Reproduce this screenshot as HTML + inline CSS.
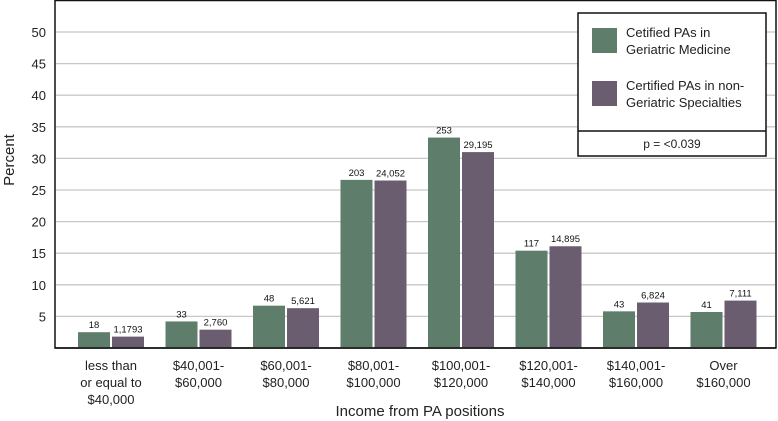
<!DOCTYPE html>
<html><head><meta charset="utf-8"><style>
body{margin:0;background:#fff;}
svg{display:block;font-family:"Liberation Sans",sans-serif;}
</style></head><body>
<svg id="c" width="778" height="421">
<rect x="55" y="0.5" width="721" height="347.5" fill="#fff" stroke="#111" stroke-width="1.5"/>
<g id="grid"></g><g id="bars"></g><g id="xl"></g>
<line x1="55" y1="348" x2="776" y2="348" stroke="#111" stroke-width="1.5"/>
<text x="14" y="160" font-size="15" text-anchor="middle" transform="rotate(-90 14 160)" fill="#222">Percent</text>
<text x="420" y="416" font-size="15" text-anchor="middle" fill="#222">Income from PA positions</text>
<g>
<rect x="578" y="13" width="188" height="143" fill="#fff" stroke="#111" stroke-width="1.5"/>
<line x1="578" y1="131" x2="766" y2="131" stroke="#111" stroke-width="1.5"/>
<rect x="592" y="28" width="25" height="25" fill="#5e7d6a"/>
<text x="626" y="37" font-size="13" fill="#222"><tspan x="626">Cetified PAs in</tspan><tspan x="626" dy="17">Geriatric Medicine</tspan></text>
<rect x="592" y="81" width="25" height="25" fill="#6b5d70"/>
<text x="626" y="90" font-size="13" fill="#222"><tspan x="626">Certified PAs in non-</tspan><tspan x="626" dy="17">Geriatric Specialties</tspan></text>
<text x="672" y="148" font-size="12" text-anchor="middle" fill="#222">p = &lt;0.039</text>
</g>
</svg>
<script>
const categories=[["less than","or equal to","$40,000"],["$40,001-","$60,000"],["$60,001-","$80,000"],["$80,001-","$100,000"],["$100,001-","$120,000"],["$120,001-","$140,000"],["$140,001-","$160,000"],["Over","$160,000"]];
const geriatric=[2.5,4.2,6.7,26.6,33.3,15.4,5.8,5.7];
const nonGeriatric=[1.8,2.9,6.3,26.5,31.0,16.1,7.2,7.5];
const geriatricLabels=["18","33","48","203","253","117","43","41"];
const nonGeriatricLabels=["1,1793","2,760","5,621","24,052","29,195","14,895","6,824","7,111"];
const yTicks=[5,10,15,20,25,30,35,40,45,50];
const NS="http://www.w3.org/2000/svg";
const y=v=>348-v*6.32;
const xc=i=>111+i*87.5;
function mk(t,a,p,txt){const e=document.createElementNS(NS,t);for(const k in a)e.setAttribute(k,a[k]);if(txt!=null)e.textContent=txt;p.appendChild(e);return e;}
const g=document.getElementById('grid');
yTicks.forEach(t=>{
 const l=mk('line',{x1:56,x2:775,y1:y(t),y2:y(t),stroke:'#c8c8c8','stroke-width':1.3},g);
 
 
 const tx=mk('text',{x:46,y:y(t)+5,'font-size':13,'text-anchor':'end',fill:'#222'},g,String(t));
 
 
});
const b=document.getElementById('bars');
categories.forEach((c,i)=>{
 const r1=mk('rect',{x:xc(i)-33,y:y(geriatric[i]),width:32,height:348-y(geriatric[i]),fill:'#5e7d6a'},b);
 
 
 const r2=mk('rect',{x:xc(i)+1,y:y(nonGeriatric[i]),width:32,height:348-y(nonGeriatric[i]),fill:'#6b5d70'},b);
 
 
 const t1=mk('text',{x:xc(i)-17,y:y(geriatric[i])-4,'font-size':9.5,'text-anchor':'middle',fill:'#111'},b,geriatricLabels[i]);
 
 
 const t2=mk('text',{x:xc(i)+17,y:y(nonGeriatric[i])-4,'font-size':9.5,'text-anchor':'middle',fill:'#111'},b,nonGeriatricLabels[i]);
 
 
 const xl=mk('text',{x:xc(i),y:370,'font-size':13,'text-anchor':'middle',fill:'#222'},document.getElementById('xl'));
 
 
 c.forEach((s,j)=>mk('tspan',{x:xc(i),dy:j?17:0},xl,s));
});
</script>
</body></html>
